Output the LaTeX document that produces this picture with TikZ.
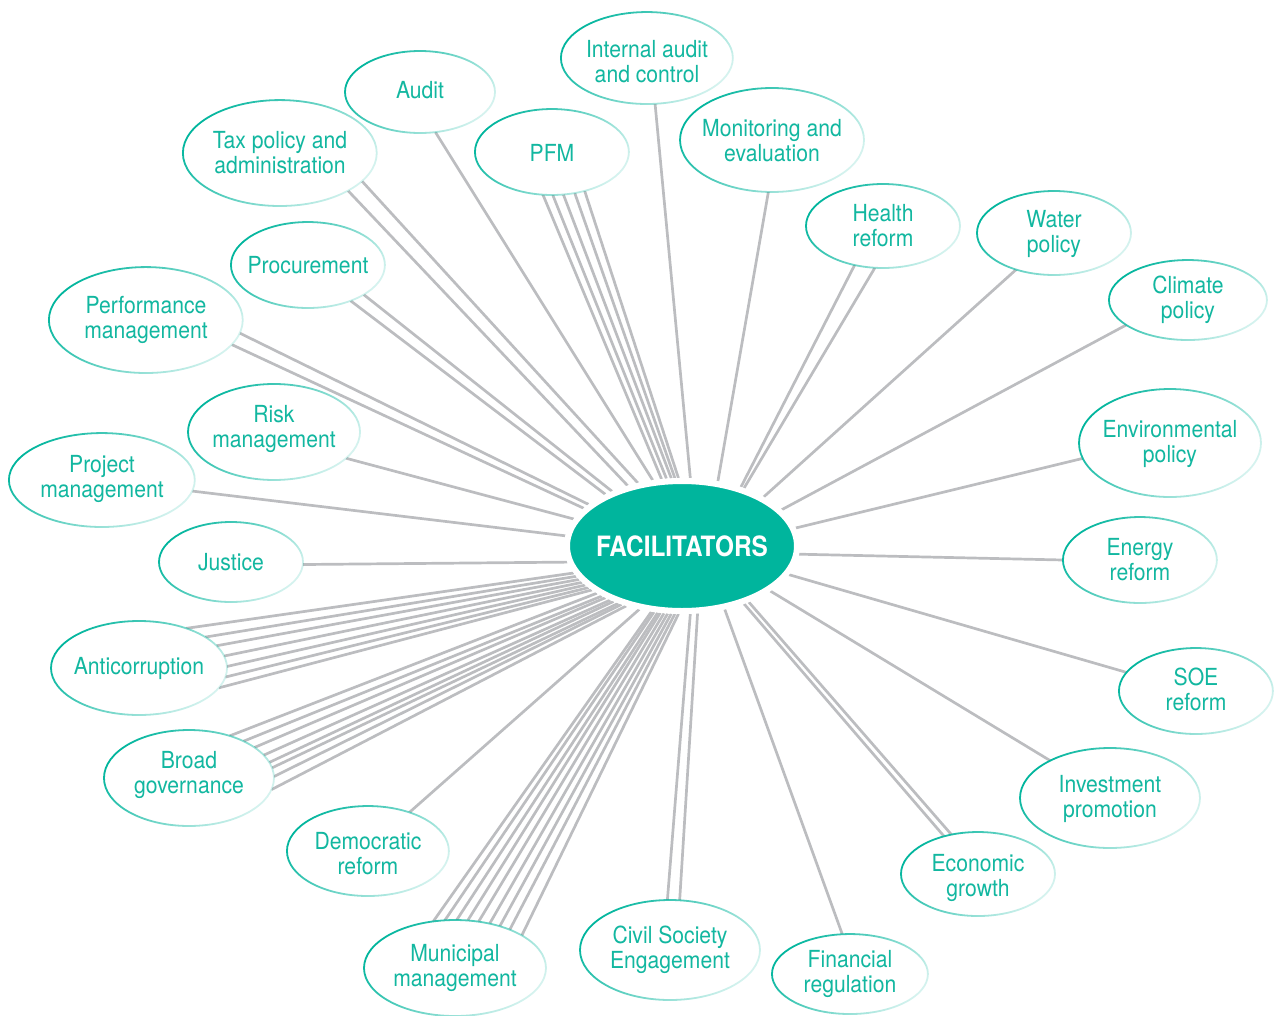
\documentclass[tikz,border=0pt]{standalone}
\usepackage{fontspec}
\setmainfont{TeX Gyre Heros}[FakeStretch=0.9]
\newfontfamily\capfont{TeX Gyre Heros}[FakeStretch=0.87]
\usetikzlibrary{shapes.geometric,backgrounds,fadings}
\definecolor{teal1}{HTML}{00B59D}
\definecolor{tealtxt}{HTML}{12B7A0}
\definecolor{linegray}{HTML}{BCBDC0}
\tikzfading[name=rimfade, left color=transparent!0, middle color=transparent!0, right color=transparent!85]
\tikzset{
  bubble/.style={ellipse, fill=white, draw=none, inner sep=0pt, outer sep=0pt},
  rim/.style={draw=teal1, line width=1.8pt, path fading=rimfade, fading angle=-25},
  lbl/.style={text=tealtxt, font=\fontsize{23.5}{25}\selectfont, align=center, inner sep=0pt},
  link/.style={draw=linegray, line width=2.7pt},
  hub/.style={ellipse, fill=teal1, draw=white, line width=6pt, minimum width=230pt, minimum height=130pt, inner sep=0pt},
  hubtxt/.style={text=white, font=\capfont\bfseries\fontsize{28}{30}\selectfont, inner sep=0pt}
}
\newcommand\bub[7]{%
  \node[bubble, minimum width=2*#4pt, minimum height=2*#5pt] (#1) at (#2,#3) {};
  \draw[rim] (#1.center) ellipse [x radius=#4pt, y radius=#5pt];
  \node[lbl] (#1-t) at (#2,#3+#7) {#6};
}
\begin{document}
\begin{tikzpicture}[x=1pt,y=-1pt]
\useasboundingbox (0,0) rectangle (1274,1015);

\bub{ia}{647}{58}{86}{46}{Internal audit\\and control}{4}
\bub{au}{420}{92}{75}{41}{Audit}{-2}
\bub{pfm}{552}{152}{77}{43}{PFM}{1}
\bub{tax}{280}{153}{97}{53}{Tax policy and\\administration}{0}
\bub{me}{772}{140}{92}{52}{Monitoring and\\evaluation}{1}
\bub{hr}{883}{226}{77}{42}{Health\\reform}{0}
\bub{wp}{1054}{233}{77}{42}{Water\\policy}{1}
\bub{cp}{1188}{300}{79}{40}{Climate\\policy}{0}
\bub{pr}{308}{265}{77}{43}{Procurement}{0}
\bub{pm}{146}{320}{97}{53}{Performance\\management}{0}
\bub{rm}{274}{432}{86}{48}{Risk\\management}{-3}
\bub{pj}{102}{480}{93}{47}{Project\\management}{-1}
\bub{ju}{231}{562}{72}{40}{Justice}{0}
\bub{ep}{1170}{443}{91}{54}{Environmental\\policy}{1}
\bub{er}{1140}{560}{77}{43}{Energy\\reform}{0}
\bub{soe}{1196}{691}{77}{43}{SOE\\reform}{-2}
\bub{ac}{139}{668}{88}{47}{Anticorruption}{0}
\bub{bg}{189}{778}{85}{48}{Broad\\governance}{-3}
\bub{ip}{1110}{798}{90}{50}{Investment\\promotion}{1}
\bub{dr}{368}{851}{81}{45}{Democratic\\reform}{3}
\bub{eg}{978}{874}{77}{42}{Economic\\growth}{4}
\bub{mm}{455}{968}{91}{48}{Municipal\\management}{0}
\bub{cs}{670}{950}{90}{50}{Civil Society\\Engagement}{0}
\bub{fr}{850}{974}{78}{40}{Financial\\regulation}{0}

\node[hub] (F) at (682,546) {};
\node[hubtxt] (F-t) at (682,546) {FACILITATORS};

\begin{scope}[on background layer]
\foreach \a/\n/\b in {
  83/ia/-80, 114/au/-69,
  107/pfm/-102, 103/pfm/-89, 99/pfm/-75, 96.5/pfm/-61, 93/pfm/-50,
  125/tax/-19, 132/tax/-29,
  142/pr/-28, 146/pr/-40,
  156/pm/-8, 159/pm/-16,
  166/rm/-20, 175/pj/-7, -172.5/ju/-2,
  -166/ac/40, -164/ac/25, -162/ac/16, -160/ac/8, -158/ac/1, -156/ac/-6, -154/ac/-14,
  -151/bg/46, -148.5/bg/34, -146/bg/25, -143.5/bg/17, -141/bg/11.5, -138.5/bg/7, -136/bg/1, -133.5/bg/-8,
  -124.6/dr/43,
  -115.8/mm/115, -113.3/mm/102, -110.8/mm/88, -108.2/mm/75, -105.5/mm/63, -102.4/mm/52, -99.7/mm/43, -96.5/mm/35, -93.7/mm/26,
  -83/cs/93, -77/cs/79,
  -56/fr/101,
  -43.5/eg/132, -40/eg/124,
  -27/ip/148, -15/soe/165, -4/er/180, 9/ep/-170, 20/cp/-158, 31/wp/-136,
  45/hr/-126, 43/hr/-101,
  61.5/me/-94}
  \draw[link] (F.\a) -- (\n.\b);
\end{scope}
\end{tikzpicture}
\end{document}
